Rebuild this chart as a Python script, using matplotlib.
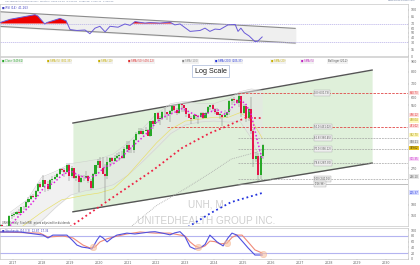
import numpy as np
import pandas as pd
import matplotlib
matplotlib.use("Agg")
import matplotlib.pyplot as plt

# ---- monthly OHLC, UNH, 2016-06 .. 2025-09 (approx) ----
opens = [134, 141, 143, 136, 140, 141, 158,
         160, 162, 166, 164, 175, 175, 185, 192, 199, 196, 210, 228,
         220, 237, 226, 214, 236, 241, 245, 253, 268, 266, 261, 281,
         249, 270, 242, 247, 233, 242, 244, 249, 234, 217, 253, 280,
         294, 272, 255, 249, 292, 305, 295, 303, 312, 312, 305, 336,
         351, 334, 332, 372, 399, 412, 400, 412, 416, 391, 460, 444,
         502, 473, 476, 510, 509, 497, 514, 542, 519, 505, 555, 548,
         530, 499, 476, 473, 492, 487, 481, 506, 477, 504, 536, 553,
         526, 512, 494, 495, 484, 495, 509, 576, 590, 585, 564, 610,
         506, 542, 475, 524, 411, 302, 312, 250, 309]
highs = [142, 144, 144, 141, 143, 160, 164,
         165, 168, 172, 176, 178, 187, 195, 200, 202, 212, 230, 232,
         250, 238, 234, 240, 247, 250, 256, 270, 272, 271, 287, 287,
         277, 272, 254, 248, 250, 250, 263, 252, 241, 256, 282, 300,
         306, 308, 285, 306, 306, 306, 315, 320, 326, 330, 345, 367,
         367, 345, 375, 408, 425, 426, 420, 431, 422, 461, 465, 505,
         508, 488, 516, 530, 510, 520, 553, 545, 535, 558, 556, 554,
         531, 505, 485, 500, 496, 490, 510, 509, 510, 546, 554, 555,
         534, 530, 505, 500, 520, 510, 585, 595, 600, 590, 631, 612,
         558, 545, 532, 600, 420, 325, 320, 320, 356]
lows = [131, 138, 134, 134, 132, 138, 153,
        156, 160, 160, 163, 170, 172, 183, 190, 193, 194, 208, 218,
        220, 208, 209, 212, 230, 236, 242, 250, 260, 245, 258, 234,
        244, 240, 235, 208, 230, 235, 243, 229, 212, 215, 250, 272,
        272, 254, 187, 240, 275, 285, 290, 300, 295, 300, 300, 325,
        323, 320, 320, 366, 395, 396, 395, 410, 390, 383, 423, 443,
        449, 440, 463, 475, 465, 456, 505, 515, 495, 500, 510, 512,
        484, 474, 445, 470, 470, 446, 475, 470, 474, 500, 520, 516,
        500, 490, 470, 436, 479, 475, 495, 550, 565, 555, 540, 480,
        500, 456, 460, 400, 274, 290, 235, 240, 300]
closes = [141, 143, 136, 140, 141, 158, 160,
          162, 166, 164, 175, 175, 185, 192, 199, 196, 210, 228, 220,
          237, 226, 214, 236, 241, 245, 253, 268, 266, 261, 281, 249,
          270, 242, 247, 233, 242, 244, 249, 234, 217, 253, 280, 294,
          272, 255, 249, 292, 305, 295, 303, 312, 312, 305, 336, 351,
          334, 332, 372, 399, 412, 400, 412, 416, 391, 460, 444, 502,
          473, 476, 510, 509, 497, 514, 542, 519, 505, 555, 548, 530,
          499, 476, 473, 492, 487, 481, 506, 477, 504, 536, 553, 526,
          512, 494, 495, 484, 495, 509, 576, 590, 585, 564, 610, 506,
          542, 475, 524, 411, 302, 312, 250, 309, 350]

# ---- moving averages / bands (sparse points) ----
sma5_x = [2016.9, 2017.2, 2017.5, 2017.8, 2018.1, 2018.4, 2018.7, 2019.0, 2019.3, 2019.6,
          2019.9, 2020.2, 2020.5, 2020.8, 2021.1, 2021.4, 2021.7, 2022.0, 2022.3, 2022.6,
          2022.9, 2023.2, 2023.5, 2023.8, 2024.1, 2024.4, 2024.7, 2024.9, 2025.1, 2025.3,
          2025.5, 2025.68]
sma5_y = [142, 158, 172, 193, 220, 228, 250, 263, 250, 242,
          250, 275, 285, 308, 340, 370, 406, 455, 485, 505,
          530, 505, 482, 505, 525, 495, 550, 582, 560, 495,
          375, 300]
yel_x = [2017.3, 2018.0, 2018.7, 2019.5, 2020.0, 2020.5, 2021.0, 2021.5, 2022.0, 2022.5,
         2023.0, 2023.5, 2024.0, 2024.5, 2024.9, 2025.3, 2025.68]
yel_y = [140, 165, 190, 200, 205, 215, 250, 300, 360, 420,
         460, 470, 480, 480, 505, 470, 380]
sma50_x = [2018.99, 2020.38, 2021.88, 2022.89, 2023.86, 2024.39, 2025.08, 2025.68]
sma50_y = [140, 191, 265, 340, 402, 431, 476, 476]
sma100_x = [2021.1, 2022.0, 2023.0, 2023.9, 2024.6, 2025.68]
sma100_y = [140, 178, 215, 258, 300, 330]
sma200_x = [2023.1, 2023.9, 2024.6, 2025.68]
sma200_y = [140, 164, 185, 205]
bb_x = [2016.9, 2017.5, 2018.0, 2018.5, 2019.0, 2019.5, 2020.0, 2020.5, 2021.0, 2021.5,
        2022.0, 2022.5, 2023.0, 2023.5, 2024.0, 2024.5, 2024.9, 2025.3, 2025.68]
bb_up = [165, 190, 245, 262, 285, 292, 300, 318, 360, 420,
         500, 560, 575, 560, 560, 590, 640, 660, 650]
bb_lo = [125, 135, 150, 175, 200, 210, 215, 225, 250, 290,
         340, 400, 440, 455, 460, 455, 460, 380, 280]

# regression channel (start, end)
chan_x = [2019.09, 2029.51]
chan_up = [450, 816]
chan_lo = [166, 287]

# retracement levels
fib_prices = [630.73, 431.0, 380.0, 336.0, 287.0, 240.0, 227.0]
fib_start = [2024.85, 2022.35, 2024.85, 2024.85, 2024.85, 2024.85, 2024.85]
fib_tags = ["0.0 (630.73)", "50.0 (431.02)", "61.8 (380.45)", "70.0 (336.12)",
            "78.6 (287.30)", "100 (240.01)", "(226.96)"]

# ---- RSI ----
rsi_x = [2016.55, 2016.90, 2017.42, 2017.77, 2017.87, 2018.11, 2018.18, 2018.64, 2018.85, 2018.99,
         2019.23, 2019.51, 2019.68, 2019.86, 2020.03, 2020.21, 2020.38, 2020.66, 2020.90, 2021.08,
         2021.25, 2021.60, 2021.77, 2022.12, 2022.47, 2022.64, 2022.82, 2023.17, 2023.52, 2023.69,
         2023.86, 2024.04, 2024.21, 2024.49, 2024.74, 2024.84, 2024.94, 2025.06, 2025.23, 2025.43,
         2025.53, 2025.68]
rsi_y = [72, 79, 85, 89, 86, 69, 72, 81, 76, 57,
         55, 56, 48, 60, 64, 52, 64, 62, 69, 66,
         74, 71, 72, 71, 73, 67, 69, 53, 55, 60,
         53, 58, 57, 67, 68, 53, 60, 50, 43, 31,
         32, 41]
rsi_chan_x = [2016.55, 2026.83]
rsi_chan_up = [95.3, 59.5]
rsi_chan_lo = [63.7, 27.9]

# ---- Stochastic ----
stk_x = [2016.55, 2017.24, 2018.05, 2018.22, 2018.39, 2018.88, 2019.06, 2019.23, 2019.40, 2019.61,
         2019.75, 2019.93, 2020.03, 2020.14, 2020.28, 2020.45, 2020.62, 2020.97, 2021.25, 2021.77,
         2021.95, 2022.30, 2022.47, 2022.64, 2022.82, 2022.99, 2023.17, 2023.34, 2023.52, 2023.69,
         2023.86, 2024.11, 2024.32, 2024.49, 2024.63, 2024.80, 2025.01, 2025.19, 2025.43, 2025.68]
stk_k = [94, 94, 83, 73, 83, 83, 66, 48, 41, 38,
         34, 66, 80, 73, 59, 73, 83, 90, 87, 94,
         95, 88, 84, 91, 95, 78, 42, 34, 38, 50,
         83, 59, 45, 73, 90, 83, 59, 38, 13, 13]
std_x = [2016.55, 2017.94, 2018.22, 2018.74, 2019.09, 2019.44, 2019.68, 2019.86, 2020.03, 2020.28,
         2020.48, 2020.97, 2021.43, 2021.95, 2022.47, 2022.99, 2023.17, 2023.34, 2023.52, 2023.69,
         2023.86, 2024.04, 2024.21, 2024.46, 2024.63, 2024.80, 2024.98, 2025.19, 2025.43, 2025.68]
std_d = [94, 90, 76, 80, 73, 48, 38, 41, 59, 70,
         76, 87, 94, 90, 90, 80, 59, 45, 38, 45,
         62, 60, 52, 55, 75, 83, 83, 59, 31, 20]
cross_x = [2019.79, 2023.45, 2024.46, 2025.71]
cross_y = [41, 41, 55, 17]

year_ticks = list(range(2017, 2031))
price_ticks = [160, 180, 270, 550, 600, 700, 800, 900]

# right-axis price boxes: (price, label)
box_prices = [630.73, 492.6, 463.0, 435.3, 393.4, 363.6, 340.0, 300.0, 246.1, 205.4]
box_labels = ["630.73", "476.12", "468.04", "431.02", "392.70", "358.21", "349.62",
              "301.35", "246.10", "205.37"]

GREEN = "#27a827"
RED = "#e3164a"

months = pd.period_range("2016-06", periods=len(closes), freq="M")
mx = np.asarray(months.year + (months.month - 0.5) / 12.0, dtype=float)
o = np.array(opens, float)
c = np.array(closes, float)
h = np.array(highs, float)
l = np.array(lows, float)

fig = plt.figure(figsize=(4.2, 2.65), dpi=100)
fig.patch.set_facecolor("white")
W = 408 / 420
ax_rsi = fig.add_axes([0.0, 1 - 56 / 265, W, 52 / 265])
ax = fig.add_axes([0.0, 1 - 226 / 265, W, 169 / 265], sharex=ax_rsi)
ax_st = fig.add_axes([0.0, 1 - 259 / 265, W, 31 / 265], sharex=ax_rsi)

for a in (ax_rsi, ax, ax_st):
    for s in a.spines.values():
        s.set_color("#c8c8c8")
        s.set_linewidth(0.5)
    a.yaxis.tick_right()
    a.tick_params(axis="both", labelsize=2.3, colors="#666666", length=1, width=0.3, pad=0.8)
    a.set_xlim(2016.55, 2030.76)

fig.text(0.012, 0.999, "UNITEDHEALTH GROUP INC., Monthly, 2025-09-16  O:309.87  H:355.98  L:300.11  C:349.62",
         fontsize=1.7, color="#7080a0", va="top")
fig.text(0.99, 0.999, "www.ProRealTime.com", fontsize=1.7, color="#7080a0", va="top", ha="right")

# ---------------- RSI panel ----------------
ax_rsi.fill_between(rsi_chan_x, rsi_chan_lo, rsi_chan_up, color="#efefef", zorder=0)
ax_rsi.plot(rsi_chan_x, rsi_chan_up, color="#8c8c8c", lw=0.8)
ax_rsi.plot(rsi_chan_x, rsi_chan_lo, color="#8c8c8c", lw=0.8)
ax_rsi.axhline(70, color="#b8b0e8", lw=0.5, ls=(0, (2, 1)))
ax_rsi.axhline(30, color="#b8b0e8", lw=0.5, ls=(0, (2, 1)))
rx = np.array(rsi_x)
ry = np.array(rsi_y, float)
ax_rsi.fill_between(rx, 70, ry, where=ry > 70, interpolate=True, color="#ee0000", lw=0, zorder=2)
ax_rsi.plot(rx, ry, color="#6a5ad8", lw=0.7, zorder=3)
ax_rsi.set_ylim(2.6, 112)
ax_rsi.set_yticks([0, 15, 30, 40, 50, 60, 70, 85, 100])
ax_rsi.tick_params(axis="x", labelbottom=False, length=0)
ax_rsi.text(0.004, 0.955, "\u25a0 RSI (14)  41.263", transform=ax_rsi.transAxes, fontsize=2.0,
            color="#4040c0", va="top")

# ---------------- main price panel ----------------
ax.set_yscale("log")
ax.set_ylim(141.5, 945)
ax.fill_between(chan_x, chan_lo, chan_up, color="#dff0da", lw=0, zorder=0)
ax.plot(chan_x, chan_up, color="#555555", lw=1.0, zorder=1)
ax.plot(chan_x, chan_lo, color="#555555", lw=1.0, zorder=1)
ax.fill_between(bb_x, bb_lo, bb_up, color="#e6e6e6", alpha=0.55, lw=0, zorder=1)
ax.plot(bb_x, bb_up, color="#d0d0d0", lw=0.4, zorder=1)
ax.plot(bb_x, bb_lo, color="#d0d0d0", lw=0.4, zorder=1)

for i, (p, x0, tag) in enumerate(zip(fib_prices, fib_start, fib_tags)):
    col = "#e04848" if i < 2 else "#999999"
    ls = (0, (3, 1.5)) if i != 6 else "-"
    ax.plot([x0, 2030.76], [p, p], color=col, lw=0.6 if i < 2 else 0.45, ls=ls, zorder=2)
    ax.text(2027.5, p, tag, fontsize=1.8, color="#555555", va="center", ha="left",
            bbox=dict(boxstyle="square,pad=0.25", fc="#eeeeee", ec="#aaaaaa", lw=0.3), zorder=6)

ax.plot(yel_x, yel_y, color="#e8e070", lw=0.5, zorder=2)
ax.plot(sma100_x, sma100_y, color="#a8a8a8", lw=0.6, ls=(0, (1, 1.2)), zorder=2)
ax.plot(sma50_x, sma50_y, color="#ee2244", lw=1.3, ls=(0, (1, 1.6)), zorder=4)
ax.plot(sma200_x, sma200_y, color="#2233dd", lw=1.3, ls=(0, (1, 1.6)), zorder=4)

up = c >= o
cols = np.where(up, GREEN, RED)
ax.vlines(mx, l, h, color="#777777", lw=0.35, zorder=3)
body_lo = np.minimum(o, c)
body_h = np.maximum(np.abs(c - o), body_lo * 0.004)
ax.bar(mx, body_h, bottom=body_lo, width=0.072, color=cols, lw=0, zorder=3)

ax.plot(sma5_x, sma5_y, color="#e020e0", lw=1.1, ls=(0, (1, 1.4)), zorder=5)

ax.set_yticks(price_ticks)
ax.set_yticklabels([str(t) for t in price_ticks])
ax.yaxis.set_minor_locator(plt.NullLocator())
ax.tick_params(axis="x", labelbottom=False, length=0)

box_styles = [("#fde0e0", "#e03030"), ("#fde0e0", "#e03030"), ("#fff8c0", "#a09000"),
              ("#fde0e0", "#e03030"), ("#fff8c0", "#a09000"), ("#e8e8e8", "#555555"),
              ("#e8c020", "#303000"), ("#f8d8f8", "#c020c0"), ("#e8e8e8", "#555555"),
              ("#d8dcff", "#2233dd")]
for p, t, (fc, tc) in zip(box_prices, box_labels, box_styles):
    ax.text(1.004, p, t, transform=ax.get_yaxis_transform(), fontsize=1.8, color=tc,
            va="center", ha="left", clip_on=False,
            bbox=dict(boxstyle="square,pad=0.15", fc=fc, ec="none"), zorder=7)

legend_items = [("\u25a0 Close (349.62)", GREEN), ("\u25a0 SMA (5) (301.35)", "#c8b000"),
                ("\u25a0 SMA (10)", "#c8b000"), ("\u25a0 SMA (50) (476.12)", "#e03030"),
                ("\u25a0 SMA (100)", "#888888"), ("\u25a0 SMA (200) (205.37)", "#2233dd"),
                ("\u25a0 SMA (20)", "#c8b000"), ("\u25a0 SMA (5)", "#c020c0"),
                ("Bollinger (20,2)", "#555555")]
lx = 0.004
for t, col in legend_items:
    ax.text(lx, 0.988, t, transform=ax.transAxes, fontsize=1.8, color=col, va="top",
            bbox=dict(boxstyle="square,pad=0.2", fc="#f2f2f2", ec="none"))
    lx += 0.0105 * len(t) * 0.62 + 0.008

ax.text(0.517, 0.915, "Log Scale", transform=ax.transAxes, fontsize=5.2, color="#222222",
        ha="center", va="center", family="Liberation Sans",
        bbox=dict(boxstyle="square,pad=0.35", fc="white", ec="#a8b8d8", lw=0.5), zorder=8)
ax.text(0.505, 0.125, "UNH, M", transform=ax.transAxes, fontsize=7.2, color="#cfcfcf",
        ha="center", va="center", family="Liberation Sans", zorder=0.5)
ax.text(0.505, 0.03, "UNITEDHEALTH GROUP INC.", transform=ax.transAxes, fontsize=7.2,
        color="#cfcfcf", ha="center", va="center", family="Liberation Sans", zorder=0.5)
ax.text(0.004, 0.005, "UNH Monthly  Stoch/RSI  prices adjusted for dividends", transform=ax.transAxes,
        fontsize=1.8, color="#444444", va="bottom")

# ---------------- stochastic panel ----------------
ax_st.axhline(80, color="#b4b4f0", lw=0.8)
ax_st.axhline(20, color="#b4b4f0", lw=0.8)
ax_st.plot(std_x, std_d, color="#f08a78", lw=0.8, zorder=3)
ax_st.plot(stk_x, stk_k, color="#5050e0", lw=0.8, zorder=4)
ax_st.scatter(cross_x, cross_y, s=22, color="#f8c0a0", alpha=0.6, edgecolors="#f0a070",
              linewidths=0.3, zorder=5)
ax_st.set_ylim(-1, 108)
ax_st.set_yticks([0, 20, 40, 60, 80, 100])
ax_st.text(0.004, 0.985, "\u25a0 Stochastic (14,3,3)  12.87  17.34", transform=ax_st.transAxes,
           fontsize=1.9, color="#4040c0", va="top")
ax_st.set_xticks(year_ticks)
ax_st.set_xticklabels([str(y) for y in year_ticks])
ax_st.tick_params(axis="x", labelsize=2.3, length=1, pad=0.6)

fig.savefig("out.png", dpi=100, facecolor="white")
